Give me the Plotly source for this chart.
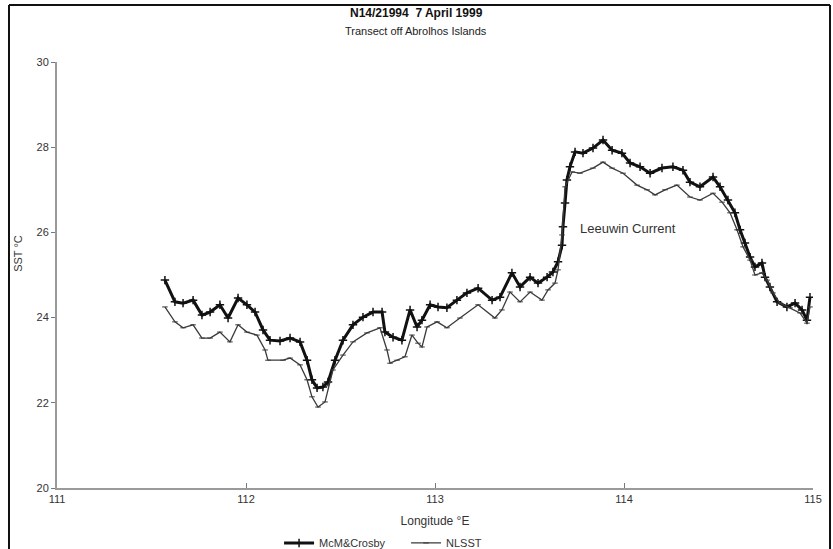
import plotly.graph_objects as go

# McM&Crosby SST along the transect
mcm_lon = [111.571, 111.624, 111.667, 111.720, 111.767, 111.810, 111.862, 111.905, 111.958, 112.005,
           112.048, 112.090, 112.127, 112.180, 112.233, 112.286, 112.323, 112.349, 112.376, 112.407,
           112.434, 112.471, 112.513, 112.566, 112.619, 112.672, 112.720, 112.735, 112.778, 112.825,
           112.868, 112.905, 112.931, 112.974, 113.016, 113.063, 113.116, 113.169, 113.228, 113.302,
           113.344, 113.407, 113.450, 113.503, 113.545, 113.593, 113.624, 113.651, 113.672, 113.677,
           113.688, 113.698, 113.714, 113.741, 113.783, 113.836, 113.889, 113.937, 113.989, 114.032,
           114.085, 114.138, 114.201, 114.259, 114.312, 114.349, 114.402, 114.471, 114.508, 114.550,
           114.587, 114.614, 114.640, 114.667, 114.693, 114.730, 114.746, 114.772, 114.810, 114.862,
           114.905, 114.942, 114.968, 114.984]
mcm_sst = [24.88, 24.37, 24.34, 24.41, 24.06, 24.13, 24.30, 23.99, 24.46, 24.30,
           24.13, 23.71, 23.47, 23.45, 23.52, 23.43, 23.00, 22.54, 22.35, 22.37,
           22.49, 23.00, 23.47, 23.83, 24.01, 24.13, 24.13, 23.66, 23.54, 23.47,
           24.18, 23.78, 23.94, 24.30, 24.25, 24.23, 24.41, 24.58, 24.69, 24.41,
           24.48, 25.05, 24.72, 24.95, 24.81, 24.95, 25.07, 25.31, 25.70, 26.13,
           26.69, 27.23, 27.54, 27.89, 27.86, 27.98, 28.17, 27.93, 27.86, 27.63,
           27.54, 27.39, 27.51, 27.54, 27.46, 27.18, 27.07, 27.30, 27.07, 26.76,
           26.46, 26.06, 25.75, 25.42, 25.19, 25.28, 24.95, 24.72, 24.37, 24.25,
           24.34, 24.18, 23.94, 24.48]

# NLSST along the same transect
nl_lon = [111.571, 111.624, 111.667, 111.720, 111.767, 111.810, 111.862, 111.915, 111.958, 112.005,
          112.058, 112.101, 112.116, 112.196, 112.233, 112.286, 112.323, 112.349, 112.381, 112.418,
          112.460, 112.513, 112.566, 112.640, 112.709, 112.746, 112.762, 112.799, 112.841, 112.878,
          112.910, 112.931, 112.958, 113.011, 113.063, 113.132, 113.228, 113.317, 113.354, 113.397,
          113.450, 113.503, 113.566, 113.598, 113.635, 113.651, 113.672, 113.688, 113.725, 113.767,
          113.836, 113.889, 113.937, 113.995, 114.069, 114.122, 114.164, 114.217, 114.280, 114.349,
          114.402, 114.471, 114.519, 114.561, 114.598, 114.630, 114.667, 114.693, 114.730, 114.757,
          114.788, 114.825, 114.878, 114.931, 114.968, 114.984]
nl_sst = [24.25, 23.90, 23.76, 23.83, 23.52, 23.52, 23.66, 23.43, 23.83, 23.66,
          23.59, 23.24, 23.00, 23.00, 23.05, 22.89, 22.54, 22.14, 21.90, 22.02,
          22.77, 23.12, 23.43, 23.64, 23.76, 23.24, 22.93, 23.00, 23.08, 23.59,
          23.40, 23.31, 23.78, 23.90, 23.76, 23.99, 24.30, 23.99, 24.18, 24.60,
          24.37, 24.60, 24.41, 24.65, 24.81, 25.12, 25.94, 27.07, 27.42, 27.39,
          27.51, 27.65, 27.51, 27.39, 27.11, 27.00, 26.88, 27.00, 27.11, 26.83,
          26.76, 26.92, 26.71, 26.46, 26.06, 25.66, 25.35, 25.00, 25.05, 24.88,
          24.58, 24.34, 24.23, 24.11, 23.87, 24.25]

x_ticks = [111, 112, 113, 114, 115]
y_ticks = [20, 22, 24, 26, 28, 30]

FONT = "Liberation Sans, Arial, sans-serif"

fig = go.Figure()
fig.add_trace(go.Scatter(
    x=mcm_lon, y=mcm_sst, name="McM&Crosby", mode="lines+markers",
    line=dict(color="#111111", width=3),
    marker=dict(symbol="cross-thin-open", size=6, line=dict(color="#111111", width=1.5)),
))
fig.add_trace(go.Scatter(
    x=nl_lon, y=nl_sst, name="NLSST", mode="lines+markers",
    line=dict(color="#3a3a3a", width=1.3),
    marker=dict(symbol="line-ew-open", size=4, line=dict(color="#3a3a3a", width=1)),
))

axis_common = dict(
    showgrid=False, zeroline=False, showline=True, linecolor="#9a9a9a", linewidth=2,
    tickcolor="#777777", tickwidth=1, automargin=False,
    tickfont=dict(family=FONT, size=11, color="#333333"),
)

fig.update_layout(
    width=833, height=549,
    margin=dict(l=57, r=20, t=62, b=61, autoexpand=False),
    paper_bgcolor="white", plot_bgcolor="white",
    font=dict(family=FONT, color="#222222"),
    showlegend=True,
    legend=dict(orientation="h", xref="container", yref="container",
                x=0.335, y=0.011, xanchor="left", yanchor="middle",
                font=dict(family=FONT, size=11, color="#333333"), itemwidth=30,
                entrywidth=82, bgcolor="rgba(0,0,0,0)"),
    xaxis=dict(range=[111, 115], tickvals=x_ticks, ticks="inside", ticklen=5, **axis_common,
               title=dict(text="Longitude °E", font=dict(family=FONT, size=12, color="#333333"),
                          standoff=12)),
    yaxis=dict(range=[20, 30], tickvals=y_ticks, ticks="outside", ticklen=4, **axis_common),
)

# Title block
fig.add_annotation(text="<b>N14/21994  7 April 1999</b>", xref="paper", yref="paper",
                   x=0.4755, y=1.115, yanchor="middle", showarrow=False,
                   font=dict(family=FONT, size=12, color="#111111"))
fig.add_annotation(text="Transect off Abrolhos Islands", xref="paper", yref="paper",
                   x=0.4755, y=1.073, yanchor="middle", showarrow=False,
                   font=dict(family=FONT, size=11, color="#222222"))
# Y axis label
fig.add_annotation(text="SST °C", xref="paper", yref="paper", x=-0.0516, y=0.552,
                   textangle=-90, xanchor="center", yanchor="middle", showarrow=False,
                   font=dict(family=FONT, size=11, color="#333333"))
# In-plot label
fig.add_annotation(text="Leeuwin Current", x=113.757, y=26.08, xanchor="left", yanchor="middle",
                   showarrow=False, font=dict(family=FONT, size=13, color="#333333"))

# Outer frame
frame = dict(type="line", xref="paper", yref="paper", line=dict(color="#111111", width=2))
fig.add_shape(x0=-0.0635, x1=-0.0635, y0=-0.2, y1=1.134, **frame)
fig.add_shape(x0=1.0225, x1=1.0225, y0=-0.2, y1=1.134, **frame)
fig.add_shape(x0=-0.0635, x1=1.0225, y0=1.134, y1=1.134, **frame)

fig.write_html("out.html")
